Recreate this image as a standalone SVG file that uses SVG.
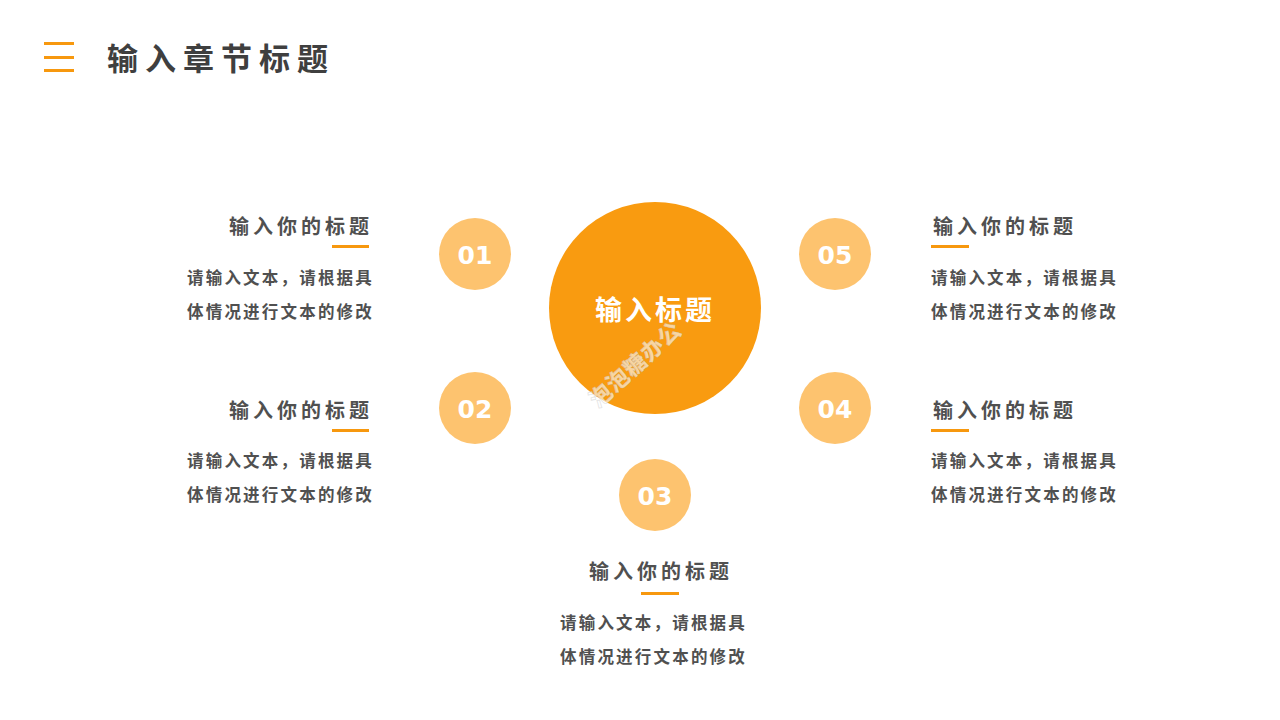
<svg xmlns="http://www.w3.org/2000/svg" width="1280" height="720" viewBox="0 0 1280 720">
<style>
.h{font-family:"Noto Sans CJK SC","Noto Sans",sans-serif;font-weight:bold;fill:#3F3F3F}
.t{font-family:"Noto Sans CJK SC","Noto Sans",sans-serif;font-weight:bold;font-size:20px;fill:#505050;letter-spacing:4px}
.b{font-family:"Noto Sans CJK SC","Noto Sans",sans-serif;font-weight:bold;font-size:16.5px;fill:#505050;letter-spacing:2.2px}
.n{font-family:"DejaVu Sans",sans-serif;font-weight:bold;font-size:25px;fill:#FFFFFF;text-anchor:middle}
.sc{fill:#FDC36F}
.ul{fill:#F7980E}
</style>
<rect width="1280" height="720" fill="#FFFFFF"/>
<g id="header">
<rect x="44" y="42" width="30" height="3" fill="#F7980E"/>
<rect x="44" y="56" width="30" height="3" fill="#F7980E"/>
<rect x="44" y="69" width="30" height="3" fill="#F7980E"/>
<text class="h" x="107" y="70" font-size="31" letter-spacing="7">输入章节标题</text>
</g>
<g id="connectors"></g>
<g id="center">
<circle cx="655" cy="308" r="106" fill="#F99B10"/>
<text x="655" y="320" font-family="Noto Sans CJK SC,sans-serif" font-weight="bold" font-size="27" fill="#FFFFFF" text-anchor="middle" letter-spacing="3">输入标题</text>
<text x="636" y="372" transform="rotate(-42 636 365)" font-family="Noto Sans CJK SC,sans-serif" font-weight="bold" font-size="22" fill="#FFFFFF" fill-opacity="0.6" stroke="#C8C8C8" stroke-opacity="0.5" stroke-width="0.8" text-anchor="middle" letter-spacing="1">泡泡糖办公</text>
</g>
<g id="node01">
<circle class="sc" cx="475" cy="254" r="36"/>
<text class="n" x="475" y="264">01</text>
<text class="t" x="229" y="234">输入你的标题</text>
<rect class="ul" x="332" y="245" width="37" height="3"/>
<text class="b" x="187" y="284">请输入文本，请根据具</text>
<text class="b" x="187" y="318">体情况进行文本的修改</text>
</g>
<g id="node02">
<circle class="sc" cx="475" cy="408" r="36"/>
<text class="n" x="475" y="418">02</text>
<text class="t" x="229" y="418">输入你的标题</text>
<rect class="ul" x="332" y="429" width="37" height="3"/>
<text class="b" x="187" y="467">请输入文本，请根据具</text>
<text class="b" x="187" y="501">体情况进行文本的修改</text>
</g>
<g id="node03">
<circle class="sc" cx="655" cy="495" r="36"/>
<text class="n" x="655" y="505">03</text>
<text class="t" x="589" y="579">输入你的标题</text>
<rect class="ul" x="641" y="592" width="38" height="3"/>
<text class="b" x="560" y="629">请输入文本，请根据具</text>
<text class="b" x="560" y="663">体情况进行文本的修改</text>
</g>
<g id="node04">
<circle class="sc" cx="835" cy="408" r="36"/>
<text class="n" x="835" y="418">04</text>
<text class="t" x="933" y="418">输入你的标题</text>
<rect class="ul" x="931" y="429" width="38" height="3"/>
<text class="b" x="931" y="467">请输入文本，请根据具</text>
<text class="b" x="931" y="501">体情况进行文本的修改</text>
</g>
<g id="node05">
<circle class="sc" cx="835" cy="254" r="36"/>
<text class="n" x="835" y="264">05</text>
<text class="t" x="933" y="234">输入你的标题</text>
<rect class="ul" x="931" y="245" width="38" height="3"/>
<text class="b" x="931" y="284">请输入文本，请根据具</text>
<text class="b" x="931" y="318">体情况进行文本的修改</text>
</g>
</svg>
